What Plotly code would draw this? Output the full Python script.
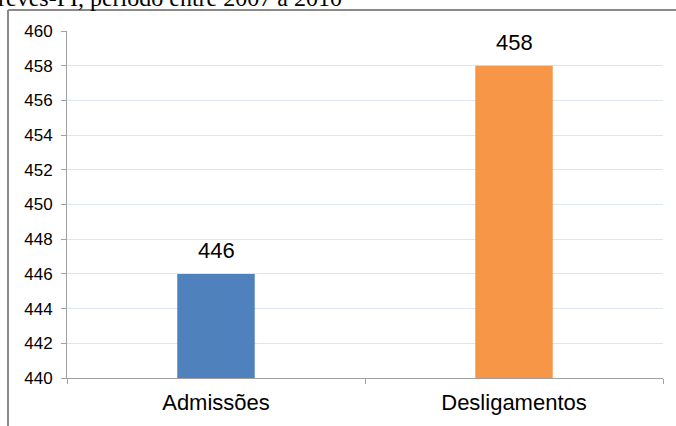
import plotly.graph_objects as go

# Movimentação de pessoal: admissões x desligamentos
categorias = ["Admissões", "Desligamentos"]
valores = [446, 458]
cores = ["#4f81bd", "#f79646"]

y_min, y_max, y_passo = 440, 460, 2

W, H = 676, 426
L, R, T, B = 67, 13, 31, 48
pw, ph = W - L - R, H - T - B


def px_x(px):
    return (px - L) / pw


def px_y(py):
    return (H - B - py) / ph


fig = go.Figure(
    go.Bar(
        x=categorias,
        y=valores,
        marker=dict(color=cores, line=dict(width=0)),
        width=0.26,
        hoverinfo="skip",
    )
)

# rótulos de valor acima de cada barra
for cat, val in zip(categorias, valores):
    fig.add_annotation(
        x=cat, y=val, xref="x", yref="y",
        text=str(val), showarrow=False,
        yanchor="bottom", yshift=9,
        font=dict(family="Liberation Sans, Arial, sans-serif", size=22, color="#000000"),
    )

# linha de texto do documento, cortada no topo da página
fig.add_annotation(
    x=px_x(-4), y=px_y(13), xref="paper", yref="paper",
    text="reves-PI, período entre 2007 a 2010",
    showarrow=False, xanchor="left", yanchor="bottom",
    font=dict(family="Liberation Serif, Times New Roman, serif", size=24, color="#000000"),
)

# moldura do quadro (topo e lado esquerdo)
moldura = dict(color="#8a8a8a", width=2)
fig.add_shape(type="line", xref="paper", yref="paper",
              x0=px_x(8), x1=px_x(680), y0=px_y(10), y1=px_y(10), line=moldura)
fig.add_shape(type="line", xref="paper", yref="paper",
              x0=px_x(8), x1=px_x(8), y0=px_y(10), y1=px_y(440), line=moldura)

fig.update_layout(
    width=W, height=H,
    margin=dict(l=L, r=R, t=T, b=B, pad=0),
    paper_bgcolor="#ffffff",
    plot_bgcolor="#ffffff",
    showlegend=False,
    bargap=0.74,
    font=dict(family="Liberation Sans, Arial, sans-serif", color="#000000"),
)

fig.update_xaxes(
    type="category",
    showline=True, linecolor="#a0a0a0", linewidth=1,
    ticks="outside", tickson="boundaries", ticklen=5, tickcolor="#a0a0a0",
    showgrid=False,
    tickfont=dict(size=22, color="#000000"),
    ticklabelstandoff=5,
)

fig.update_yaxes(
    range=[y_min, y_max], dtick=y_passo, tick0=y_min,
    showline=True, linecolor="#a0a0a0", linewidth=1,
    ticks="outside", ticklen=5, tickcolor="#a0a0a0",
    showgrid=True, gridcolor="#dce6f0", gridwidth=1,
    zeroline=False,
    tickfont=dict(size=17, color="#000000"),
    ticklabelstandoff=5,
)

fig.write_html("out.html")
